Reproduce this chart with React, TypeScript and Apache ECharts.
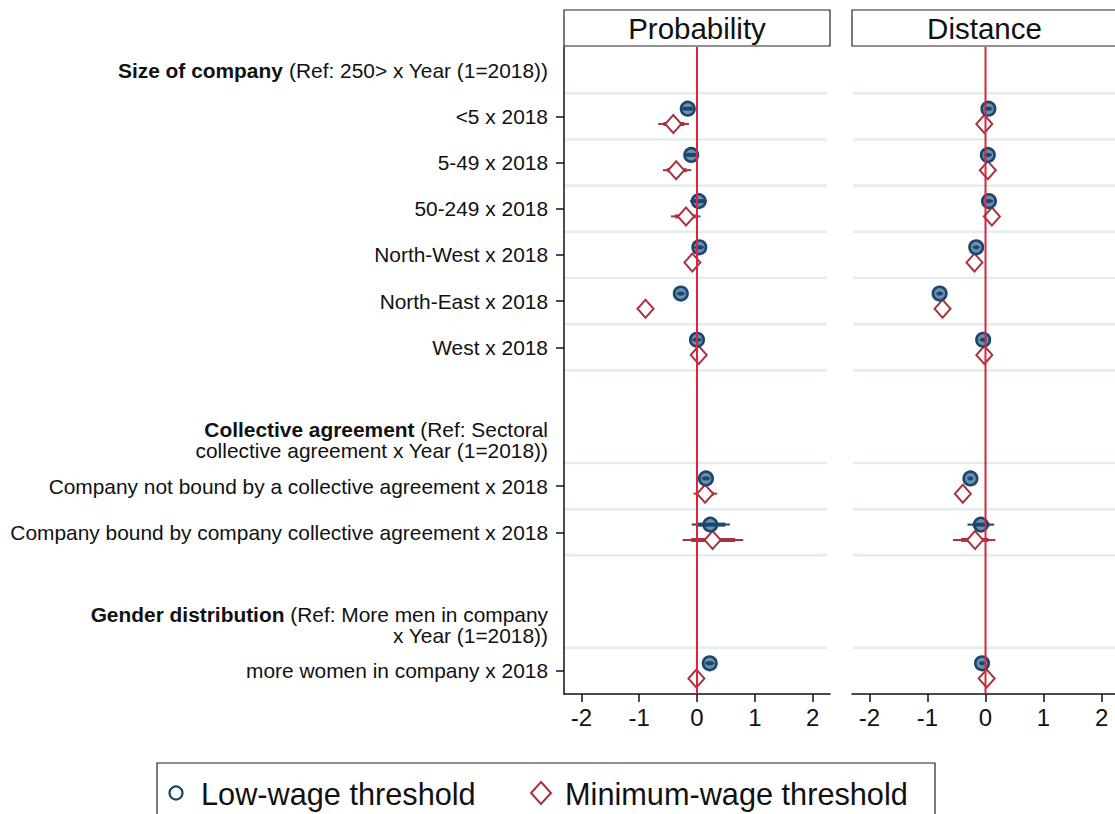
import React, { useEffect, useRef } from "react";
import * as echarts from "echarts";

// ---- data ----
const rowLabels = [
  "<5 x 2018",
  "5-49 x 2018",
  "50-249 x 2018",
  "North-West x 2018",
  "North-East x 2018",
  "West x 2018",
  "Company not bound by a collective agreement x 2018",
  "Company bound by company collective agreement x 2018",
  "more women in company x 2018",
];
const rowPos = [0, 1, 2, 3, 4, 5, 8, 9, 12];
const headerPos = [-1, 7, 11];
const headerBold = ["Size of company", "Collective agreement", "Gender distribution"];
const headerRest = [
  [" (Ref: 250> x Year (1=2018))"],
  [" (Ref: Sectoral", "collective agreement x Year (1=2018))"],
  [" (Ref: More men in company", "x Year (1=2018))"],
];
const gridlinePos = [-0.5, 0.5, 1.5, 2.5, 3.5, 4.5, 5.5, 7.5, 8.5, 9.5, 11.5];
const panelTitles = ["Probability", "Distance"];
const xTicks = [-2, -1, 0, 1, 2];
const legendNames = ["Low-wage threshold", "Minimum-wage threshold"];

// [estimate, lo95, hi95, lo90, hi90]
const probLow = [
  [-0.16, -0.29, -0.03, -0.24, -0.08],
  [-0.1, -0.22, 0.03, -0.18, -0.02],
  [0.03, -0.12, 0.17, -0.07, 0.12],
  [0.04, -0.05, 0.12, -0.02, 0.09],
  [-0.28, -0.35, -0.21, -0.32, -0.24],
  [0.0, -0.08, 0.08, -0.05, 0.05],
  [0.155, 0.08, 0.23, 0.11, 0.2],
  [0.23, -0.09, 0.57, 0.0, 0.49],
  [0.22, 0.14, 0.3, 0.17, 0.27],
];
const probMin = [
  [-0.41, -0.67, -0.14, -0.58, -0.22],
  [-0.36, -0.59, -0.1, -0.52, -0.18],
  [-0.19, -0.45, 0.06, -0.38, -0.02],
  [-0.08, -0.18, 0.03, -0.15, 0.0],
  [-0.89, -0.96, -0.82, -0.93, -0.85],
  [0.03, -0.06, 0.12, -0.03, 0.09],
  [0.14, -0.06, 0.35, 0.0, 0.29],
  [0.27, -0.25, 0.8, -0.1, 0.66],
  [-0.01, -0.08, 0.06, -0.05, 0.03],
];
const distLow = [
  [0.05, -0.02, 0.12, 0.01, 0.09],
  [0.04, -0.03, 0.11, 0.0, 0.08],
  [0.06, -0.01, 0.13, 0.02, 0.1],
  [-0.16, -0.22, -0.1, -0.19, -0.13],
  [-0.79, -0.85, -0.73, -0.82, -0.76],
  [-0.04, -0.1, 0.02, -0.07, -0.01],
  [-0.26, -0.31, -0.21, -0.29, -0.23],
  [-0.08, -0.31, 0.15, -0.22, 0.07],
  [-0.06, -0.11, -0.01, -0.09, -0.03],
];
const distMin = [
  [-0.02, -0.09, 0.05, -0.06, 0.02],
  [0.04, -0.03, 0.11, 0.0, 0.08],
  [0.11, 0.03, 0.19, 0.06, 0.16],
  [-0.19, -0.26, -0.12, -0.23, -0.15],
  [-0.74, -0.81, -0.67, -0.78, -0.7],
  [-0.02, -0.08, 0.04, -0.05, 0.01],
  [-0.39, -0.45, -0.33, -0.42, -0.36],
  [-0.18, -0.56, 0.17, -0.42, 0.05],
  [0.02, -0.04, 0.08, -0.01, 0.05],
];

// ---- styles ----
const FONT = "'Liberation Sans', Arial, Helvetica, sans-serif";
const BLUE = "#1a476f";
const RED = "#a8323f";
const REF = "#d7263d";
const GRIDC = "#e4ecef";
const OFF = 0.165;
const LABEL_SIZE = 20.9;

function ciSeries(gi: number, data: number[][], color: string, off: number, z: number) {
  return {
    type: "custom",
    xAxisIndex: gi,
    yAxisIndex: gi,
    z,
    silent: true,
    data: data.map((d, i) => [d[1], d[2], rowPos[i] + off, d[3], d[4]]),
    encode: { x: [0, 1], y: 2 },
    renderItem: (params: any, api: any) => {
      const y = api.value(2);
      const a = api.coord([api.value(0), y]);
      const b = api.coord([api.value(1), y]);
      const c = api.coord([api.value(3), y]);
      const d = api.coord([api.value(4), y]);
      return {
        type: "group",
        children: [
          { type: "line", shape: { x1: a[0], y1: a[1], x2: b[0], y2: b[1] }, style: { stroke: color, lineWidth: 2 } },
          { type: "line", shape: { x1: c[0], y1: c[1], x2: d[0], y2: d[1] }, style: { stroke: color, lineWidth: 4 } },
        ],
      };
    },
  };
}

function gridSeries(gi: number) {
  return {
    type: "custom",
    xAxisIndex: gi,
    yAxisIndex: gi,
    z: 1,
    silent: true,
    data: gridlinePos.map((v) => [0, v]),
    encode: { x: 0, y: 1 },
    renderItem: (params: any, api: any) => {
      const cs = params.coordSys;
      const y = api.coord([0, api.value(1)])[1];
      return {
        type: "line",
        shape: { x1: cs.x + 1, y1: y, x2: cs.x + cs.width - 3, y2: y },
        style: { stroke: GRIDC, lineWidth: 2.5 },
      };
    },
  };
}

function refSeries(gi: number) {
  return {
    type: "custom",
    xAxisIndex: gi,
    yAxisIndex: gi,
    z: 10,
    silent: true,
    data: [[0, 0]],
    encode: { x: 0, y: 1 },
    renderItem: (params: any, api: any) => {
      const cs = params.coordSys;
      const x = api.coord([api.value(0), 0])[0];
      return {
        type: "line",
        shape: { x1: x, y1: cs.y, x2: x, y2: cs.y + cs.height },
        style: { stroke: REF, lineWidth: 2 },
      };
    },
  };
}

function labelFor(v: number): string {
  const ri = rowPos.indexOf(v);
  if (ri >= 0) return `{n|${rowLabels[ri]}}`;
  const hi = headerPos.indexOf(v);
  if (hi >= 0) {
    const rest = headerRest[hi];
    let s = `{b|${headerBold[hi]}}{n|${rest[0]}}`;
    for (let k = 1; k < rest.length; k++) s += `\n{n|${rest[k]}}`;
    return s;
  }
  return "";
}

export default function App() {
  const ref = useRef<HTMLDivElement>(null);
  useEffect(() => {
    if (!ref.current) return;
    const chart = echarts.init(ref.current, null, { renderer: "svg" });
    const grids = [
      { left: 564, top: 47, width: 266, height: 647 },
      { left: 852, top: 47, width: 267, height: 647 },
    ];
    const xAxes = grids.map((g, gi) => ({
      type: "value",
      gridIndex: gi,
      min: -2.3,
      max: 2.3,
      position: "bottom",
      splitLine: { show: false },
      axisLine: { show: true, onZero: false, lineStyle: { color: "#111", width: 1.5 } },
      axisTick: { show: true, customValues: xTicks, length: 8, lineStyle: { color: "#111", width: 1.5 } },
      axisLabel: {
        customValues: xTicks,
        fontSize: 24,
        fontFamily: FONT,
        color: "#111",
        margin: 11,
      },
    }));
    const yAxes = grids.map((g, gi) => ({
      type: "value",
      gridIndex: gi,
      min: -1.5,
      max: 12.5,
      inverse: true,
      show: gi === 0,
      splitLine: { show: false },
      axisLine: { show: gi === 0, onZero: false, lineStyle: { color: "#111", width: 1.5 } },
      axisTick: { show: gi === 0, customValues: rowPos, length: 8, lineStyle: { color: "#111", width: 1.5 } },
      axisLabel: {
        show: gi === 0,
        customValues: [...headerPos, ...rowPos],
        margin: 16,
        formatter: (v: number) => labelFor(v),
        rich: {
          b: { fontWeight: "bold", fontSize: LABEL_SIZE, fontFamily: FONT, color: "#111", align: "right", lineHeight: 21 },
          n: { fontSize: LABEL_SIZE, fontFamily: FONT, color: "#111", align: "right", lineHeight: 21 },
        },
      },
    }));
    const panels = [
      [probLow, probMin],
      [distLow, distMin],
    ];
    const series: any[] = [];
    panels.forEach(([low, min], gi) => {
      series.push(gridSeries(gi));
      series.push(ciSeries(gi, min, RED, OFF, 2));
      series.push({
        type: "scatter",
        name: legendNames[1],
        xAxisIndex: gi,
        yAxisIndex: gi,
        z: 3,
        symbol: "diamond",
        symbolSize: [16, 18],
        itemStyle: { color: "#ffffff", borderColor: RED, borderWidth: 2, opacity: 1 },
        data: min.map((d, i) => [d[0], rowPos[i] + OFF]),
      });
      series.push({
        type: "scatter",
        name: legendNames[0],
        xAxisIndex: gi,
        yAxisIndex: gi,
        z: 4,
        symbol: "circle",
        symbolSize: 13.5,
        itemStyle: { color: "#6f90ae", borderColor: BLUE, borderWidth: 2.6, opacity: 1 },
        data: low.map((d, i) => [d[0], rowPos[i] - OFF]),
      });
      series.push(ciSeries(gi, low, BLUE, -OFF, 5));
      series.push(refSeries(gi));
    });

    const graphic: any[] = [];
    grids.forEach((g, gi) => {
      graphic.push({
        type: "rect",
        shape: { x: g.left, y: 10, width: g.width, height: 36 },
        style: { fill: "#fff", stroke: "#222", lineWidth: 1.2 },
      });
      graphic.push({
        type: "text",
        x: g.left + g.width / 2 + (gi === 1 ? -1 : 0),
        y: 28,
        style: {
          text: panelTitles[gi],
          fontSize: 29.5,
          fontFamily: FONT,
          fill: "#111",
          align: "center",
          verticalAlign: "middle",
        },
      });
    });
    // legend
    graphic.push({
      type: "rect",
      shape: { x: 157, y: 763, width: 778, height: 60 },
      style: { fill: "#fff", stroke: "#222", lineWidth: 1.2 },
    });
    graphic.push({
      type: "circle",
      shape: { cx: 176, cy: 793, r: 6.5 },
      style: { fill: "#fff", stroke: BLUE, lineWidth: 2.2 },
    });
    graphic.push({
      type: "text",
      x: 201,
      y: 794,
      style: { text: legendNames[0], fontSize: 30.7, fontFamily: FONT, fill: "#111", verticalAlign: "middle" },
    });
    graphic.push({
      type: "polygon",
      shape: { points: [[541, 782], [551, 793], [541, 804], [531, 793]] },
      style: { fill: "#fff", stroke: RED, lineWidth: 2 },
    });
    graphic.push({
      type: "text",
      x: 565,
      y: 794,
      style: { text: legendNames[1], fontSize: 30.7, fontFamily: FONT, fill: "#111", verticalAlign: "middle" },
    });

    chart.setOption({
      animation: false,
      backgroundColor: "#ffffff",
      grid: grids,
      xAxis: xAxes,
      yAxis: yAxes,
      series,
      graphic,
    });
    return () => chart.dispose();
  }, []);
  return (
    <div
      ref={ref}
      style={{ position: "fixed", left: 0, top: 0, width: 1122, height: 814, background: "#fff" }}
    />
  );
}
